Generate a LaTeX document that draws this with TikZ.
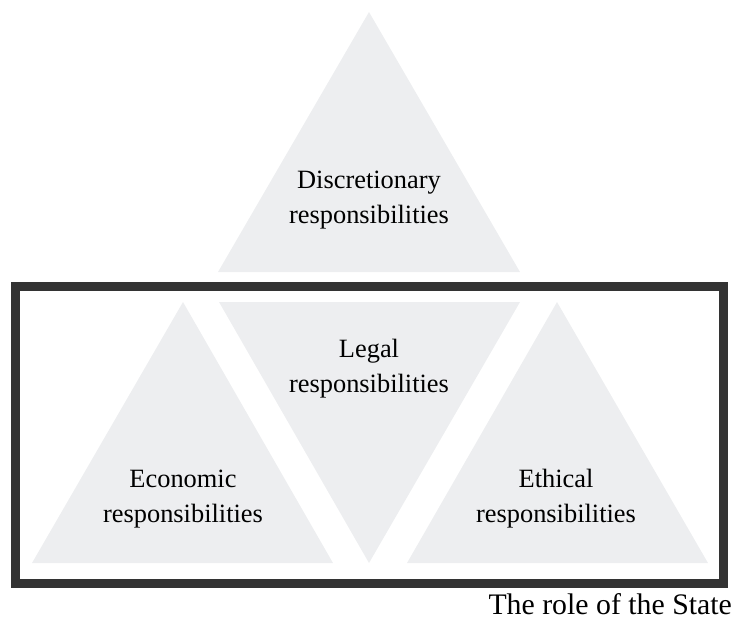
\documentclass[tikz,border=0pt]{standalone}
\usepackage{fontspec}
\setmainfont{Liberation Serif}
\definecolor{trifill}{HTML}{EDEEF0}
\definecolor{boxline}{HTML}{333333}
\begin{document}
\begin{tikzpicture}[x=1pt,y=-1pt,
  tri/.style={fill=trifill,draw=none},
  lbl/.style={inner sep=0pt,anchor=base,font=\fontsize{26.4}{35}\selectfont},
  captionlbl/.style={inner sep=0pt,anchor=base east,font=\fontsize{29.8}{35}\selectfont}]
\useasboundingbox (0,0) rectangle (735,619);
% triangles
\path[tri] (369,12) -- (218,272) -- (520,272) -- cycle;
\path[tri] (183,302) -- (32,563) -- (333,563) -- cycle;
\path[tri] (219,302) -- (520,302) -- (369,563) -- cycle;
\path[tri] (557,302) -- (407,563) -- (708,563) -- cycle;
% frame
\draw[boxline,line width=9pt] (15.5,286) rectangle (723.5,583.5);
% labels
\node[lbl] (disc) at (369,188) {\begin{tabular}[t]{@{}c@{}}Discretionary\\responsibilities\end{tabular}};
\node[lbl] (legal) at (369,357) {\begin{tabular}[t]{@{}c@{}}Legal\\responsibilities\end{tabular}};
\node[lbl] (econ) at (183,487) {\begin{tabular}[t]{@{}c@{}}Economic\\responsibilities\end{tabular}};
\node[lbl] (eth) at (556,487) {\begin{tabular}[t]{@{}c@{}}Ethical\\responsibilities\end{tabular}};
\node[captionlbl] (state) at (732,614) {The role of the State};
\end{tikzpicture}
\end{document}
